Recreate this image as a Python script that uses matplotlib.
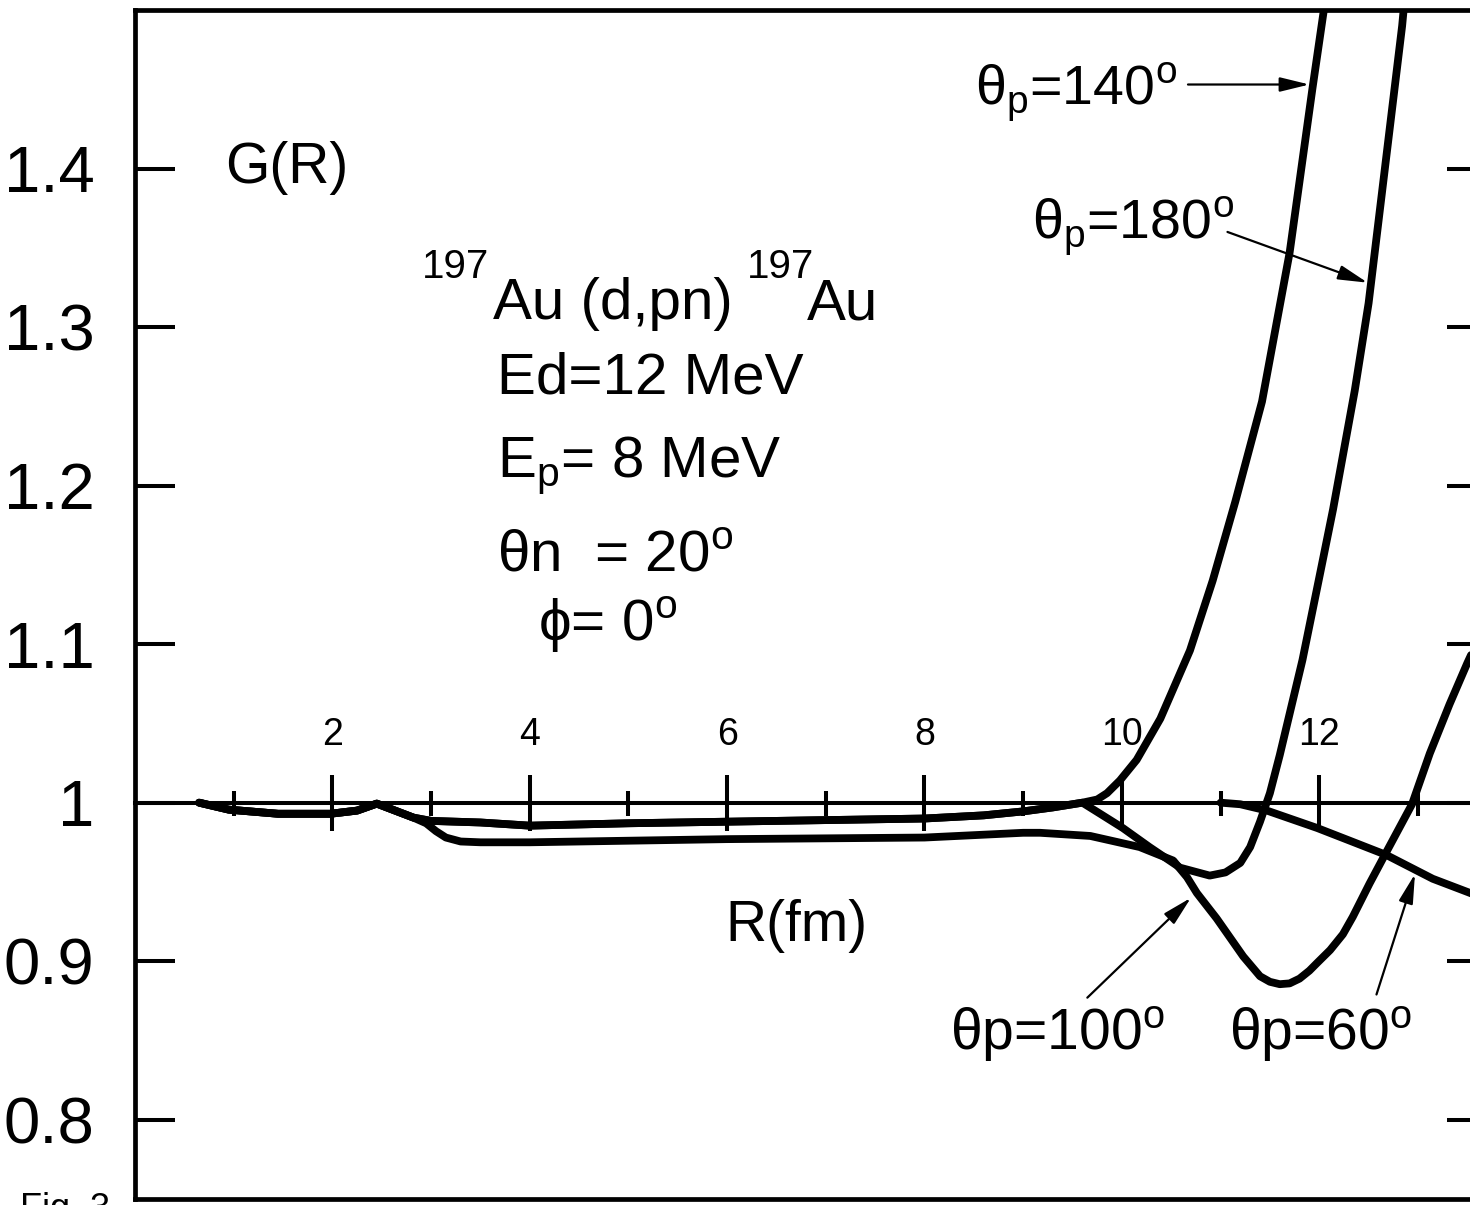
import matplotlib

matplotlib.use("Agg")
import matplotlib.pyplot as plt

# G(R) for 197Au(d,pn)197Au, one curve per proton angle
r_140 = [0.65, 0.95, 1.45, 1.98, 2.25, 2.45, 2.82, 3.0, 3.5, 4.0, 5.0, 6.0, 7.0, 8.0,
         8.6, 9.0, 9.3, 9.6, 9.75, 9.85, 9.98, 10.15, 10.39, 10.69, 10.92, 11.15,
         11.42, 11.70, 11.93, 12.07]
g_140 = [1.0, 0.9956, 0.993, 0.993, 0.995, 0.9994, 0.9906, 0.9885, 0.9875, 0.9855,
         0.987, 0.988, 0.989, 0.990, 0.992, 0.9945, 0.997, 1.0, 1.002, 1.006, 1.014,
         1.027, 1.053, 1.096, 1.140, 1.19, 1.253, 1.347, 1.45, 1.51]

r_180 = [0.65, 0.95, 1.45, 1.98, 2.25, 2.45, 2.82, 3.0, 3.5, 4.0, 5.0, 6.0, 7.0, 8.0,
         8.6, 9.0, 9.3, 9.6, 9.78, 10.01, 10.28, 10.59, 10.89, 11.05, 11.2, 11.3,
         11.4, 11.5, 11.6, 11.83, 12.01, 12.14, 12.36, 12.5, 12.84, 12.87]
g_180 = [1.0, 0.9956, 0.993, 0.993, 0.995, 0.9994, 0.9906, 0.9885, 0.9875, 0.9855,
         0.987, 0.988, 0.989, 0.990, 0.992, 0.9945, 0.997, 1.0, 0.993, 0.984, 0.972,
         0.959, 0.954, 0.956, 0.962, 0.972, 0.988, 1.006, 1.03, 1.09, 1.145, 1.185,
         1.26, 1.315, 1.49, 1.51]

r_100 = [0.65, 0.95, 1.45, 1.98, 2.25, 2.45, 2.82, 2.95, 3.05, 3.15, 3.3, 3.5, 4.0,
         5.0, 6.0, 7.0, 8.0, 9.0, 9.17, 9.68, 10.18, 10.52, 10.66, 10.76, 10.96,
         11.23, 11.4, 11.5, 11.6, 11.7, 11.8, 11.9, 11.98, 12.11, 12.24, 12.34,
         12.51, 12.69, 12.94, 13.12, 13.32, 13.5, 13.7]
g_100 = [1.0, 0.9956, 0.993, 0.993, 0.995, 0.9994, 0.9906, 0.987, 0.982, 0.978,
         0.9755, 0.975, 0.975, 0.976, 0.977, 0.9775, 0.978, 0.981, 0.981, 0.979,
         0.972, 0.9635, 0.953, 0.943, 0.927, 0.903, 0.8905, 0.887, 0.8855, 0.886,
         0.889, 0.894, 0.899, 0.907, 0.917, 0.928, 0.949, 0.97, 0.999, 1.031,
         1.062, 1.088, 1.115]

r_60 = [11.0, 11.2, 11.47, 11.98, 12.31, 12.68, 13.15, 13.53, 13.7]
g_60 = [1.0, 0.999, 0.995, 0.984, 0.976, 0.967, 0.952, 0.943, 0.938]

y_ticks = [0.8, 0.9, 1.0, 1.1, 1.2, 1.3, 1.4]
y_tick_labels = ["0.8", "0.9", "1", "1.1", "1.2", "1.3", "1.4"]
r_major = [2, 4, 6, 8, 10, 12]
r_minor = [1, 3, 5, 7, 9, 11, 13]

plt.rcParams["font.family"] = ["Liberation Sans", "DejaVu Sans"]
plt.rcParams["mathtext.fontset"] = "custom"
plt.rcParams["mathtext.rm"] = "Liberation Sans"

fig = plt.figure(figsize=(14.7, 12.05), dpi=100)
ax = fig.add_axes([0.09184, 0.00498, 0.91973, 0.98672])
ax.set_xlim(0, 13.7)
ax.set_ylim(0.75, 1.5)

for s in ax.spines.values():
    s.set_linewidth(3.4)

ax.set_xticks([])
ax.set_yticks(y_ticks, labels=y_tick_labels)
ax.tick_params(axis="y", which="both", left=True, right=True, direction="in",
               length=29, width=2.9, labelsize=47, pad=29)

line_kw = dict(color="black", lw=5.6, solid_capstyle="round", solid_joinstyle="round")
ax.plot(r_140, g_140, **line_kw)
ax.plot(r_180, g_180, **line_kw)
ax.plot(r_100, g_100, **line_kw)
ax.plot(r_60, g_60, **line_kw)

# R axis drawn inside the frame along G = 1
axr = ax.twiny()
axr.set_xlim(0, 13.7)
for s in ["left", "right", "bottom"]:
    axr.spines[s].set_visible(False)
axr.spines["top"].set_position(("data", 1.0))
axr.spines["top"].set_linewidth(2.9)
axr.set_xticks(r_major, labels=[str(v) for v in r_major])
axr.set_xticks(r_minor, minor=True)
axr.tick_params(axis="x", which="major", direction="inout", length=40, width=2.9,
                labelsize=27, pad=16)
axr.tick_params(axis="x", which="minor", direction="inout", length=18, width=2.9)

ax.text(0.91, 1.391, "G(R)", fontsize=41)
ax.text(5.98, 0.913, "R(fm)", fontsize=41)

ax.text(2.91, 1.331, "197", fontsize=29)
ax.text(3.63, 1.305, "Au (d,pn)", fontsize=42)
ax.text(6.20, 1.331, "197", fontsize=29)
ax.text(6.81, 1.305, "Au", fontsize=42)
ax.text(3.67, 1.258, "Ed=12 MeV", fontsize=42)
ax.text(3.67, 1.205, r"E$_\mathrm{p}$= 8 MeV", fontsize=42)
ax.text(3.67, 1.146, r"θn  = 20$^\mathrm{o}$", fontsize=42)
ax.text(4.08, 1.102, r"ϕ= 0$^\mathrm{o}$", fontsize=42)

arrow_kw = dict(arrowstyle="-|>,head_length=0.9,head_width=0.22", color="black",
                lw=1.6, shrinkA=0, shrinkB=0, mutation_scale=20)
ax.annotate("", xy=(11.90, 1.453), xytext=(10.67, 1.453), arrowprops=arrow_kw)
ax.annotate("", xy=(12.49, 1.328), xytext=(11.07, 1.360), arrowprops=arrow_kw)
ax.annotate("", xy=(10.70, 0.940), xytext=(9.65, 0.877), arrowprops=arrow_kw)
ax.annotate("", xy=(12.97, 0.955), xytext=(12.58, 0.879), arrowprops=arrow_kw)

ax.text(8.51, 1.441, r"θ$_\mathrm{p}$=140$^\mathrm{o}$", fontsize=40)
ax.text(9.09, 1.356, r"θ$_\mathrm{p}$=180$^\mathrm{o}$", fontsize=40)
ax.text(8.26, 0.8435, r"θp=100$^\mathrm{o}$", fontsize=41)
ax.text(11.09, 0.8435, r"θp=60$^\mathrm{o}$", fontsize=41)

fig.text(0.0136, 0.0108, "Fig. 3", fontsize=26, va="top")

plt.savefig("out.png", dpi=100)
